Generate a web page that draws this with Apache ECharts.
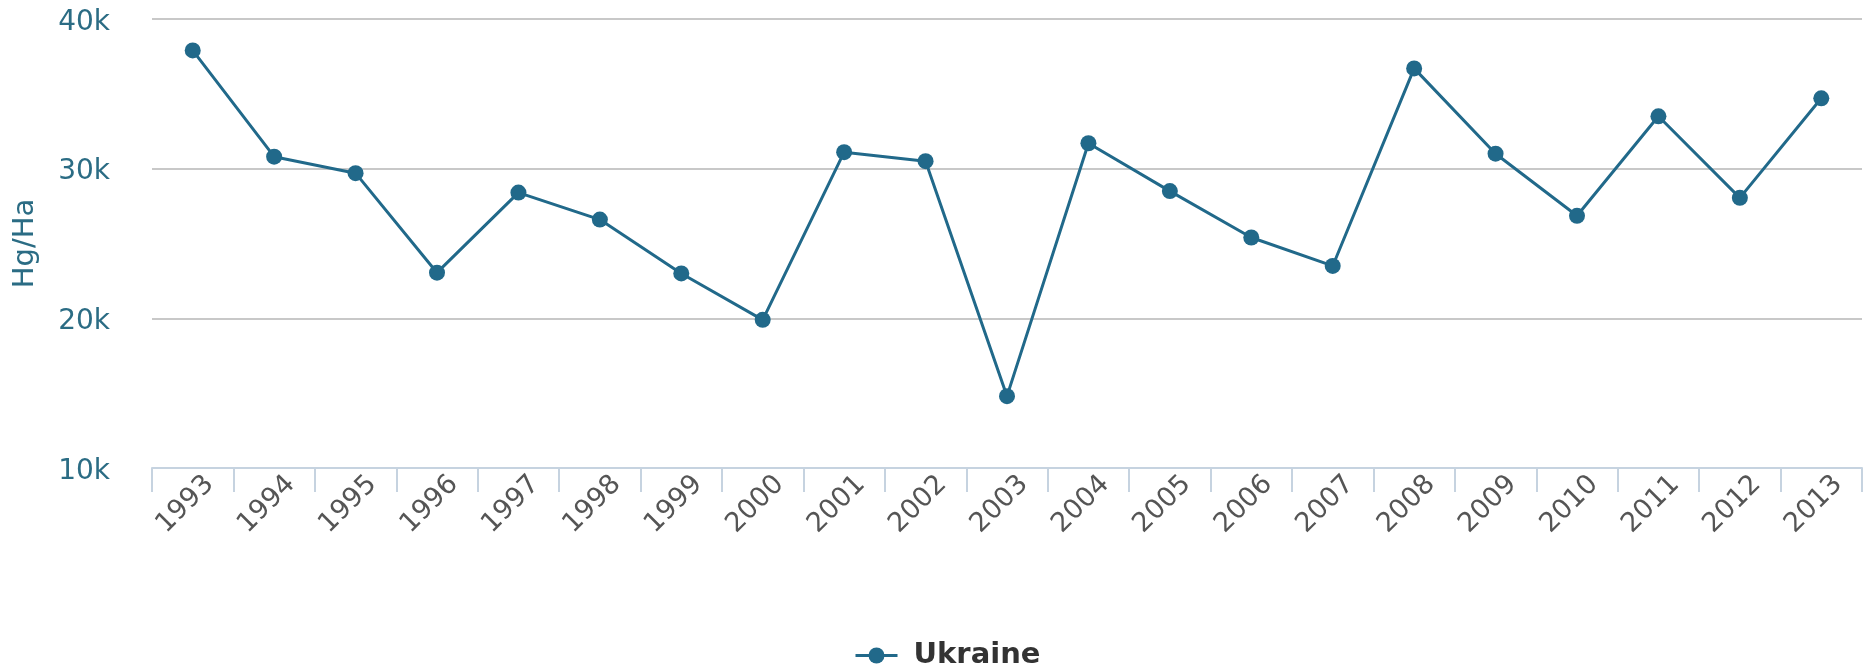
<!DOCTYPE html>
<html>
<head>
<meta charset="utf-8">
<script src="https://cdn.jsdelivr.net/npm/echarts@6/dist/echarts.min.js"></script>
<style>
html,body{margin:0;padding:0;background:#fff;}
#main{width:1864px;height:670px;}
</style>
</head>
<body>
<div id="main"></div>
<script>
const years = ['1993','1994','1995','1996','1997','1998','1999','2000','2001','2002','2003','2004','2005','2006','2007','2008','2009','2010','2011','2012','2013'];
const ukraine = [37900, 30800, 29700, 23050, 28400, 26600, 23000, 19900, 31100, 30500, 14800, 31700, 28500, 25400, 23500, 36700, 31000, 26850, 33500, 28050, 34700];
const yTicks = [10000, 20000, 30000, 40000];
const seriesName = 'Ukraine';
const yName = 'Hg/Ha';

const chart = echarts.init(document.getElementById('main'));
chart.setOption({
  animation: false,
  textStyle: { fontFamily: 'DejaVu Sans' },
  grid: { left: 152, right: 2, top: 19, bottom: 202 },
  legend: {
    top: 636,
    left: 849,
    itemWidth: 42,
    itemHeight: 20,
    lineStyle: { width: 3 },
    textStyle: { fontSize: 29, fontWeight: 'bold', color: '#333', padding: [0, 0, 0, 11] },
    data: [seriesName]
  },
  xAxis: {
    type: 'category',
    data: years,
    boundaryGap: true,
    axisLine: { lineStyle: { color: '#c6d3e0', width: 2 } },
    axisTick: { show: true, length: 24, lineStyle: { color: '#c6d3e0', width: 2 } },
    axisLabel: {
      rotate: 45, interval: 0, margin: 29, align: 'center',
      formatter: v => '{y|' + v + '}',
      rich: { y: { fontSize: 27, color: '#555', padding: [0, 21, 0, 0] } }
    }
  },
  yAxis: {
    type: 'value',
    min: yTicks[0],
    max: yTicks[yTicks.length - 1],
    interval: 10000,
    name: yName,
    nameLocation: 'middle',
    nameGap: 112,
    nameTextStyle: { fontSize: 29, color: '#2b6c84' },
    axisLine: { show: false },
    axisTick: { show: false },
    axisLabel: {
      margin: 42,
      formatter: v => '{v|' + (v / 1000) + 'k}',
      rich: { v: { fontSize: 28, color: '#2b6c84', padding: [7, 0, 0, 0] } }
    },
    splitLine: { lineStyle: { color: '#c8c8c8', width: 2 } }
  },
  series: [{
    name: seriesName,
    type: 'line',
    data: ukraine,
    symbol: 'circle',
    symbolSize: 16,
    itemStyle: { color: '#21698a' },
    lineStyle: { color: '#21698a', width: 3 }
  }]
});
</script>
</body>
</html>
